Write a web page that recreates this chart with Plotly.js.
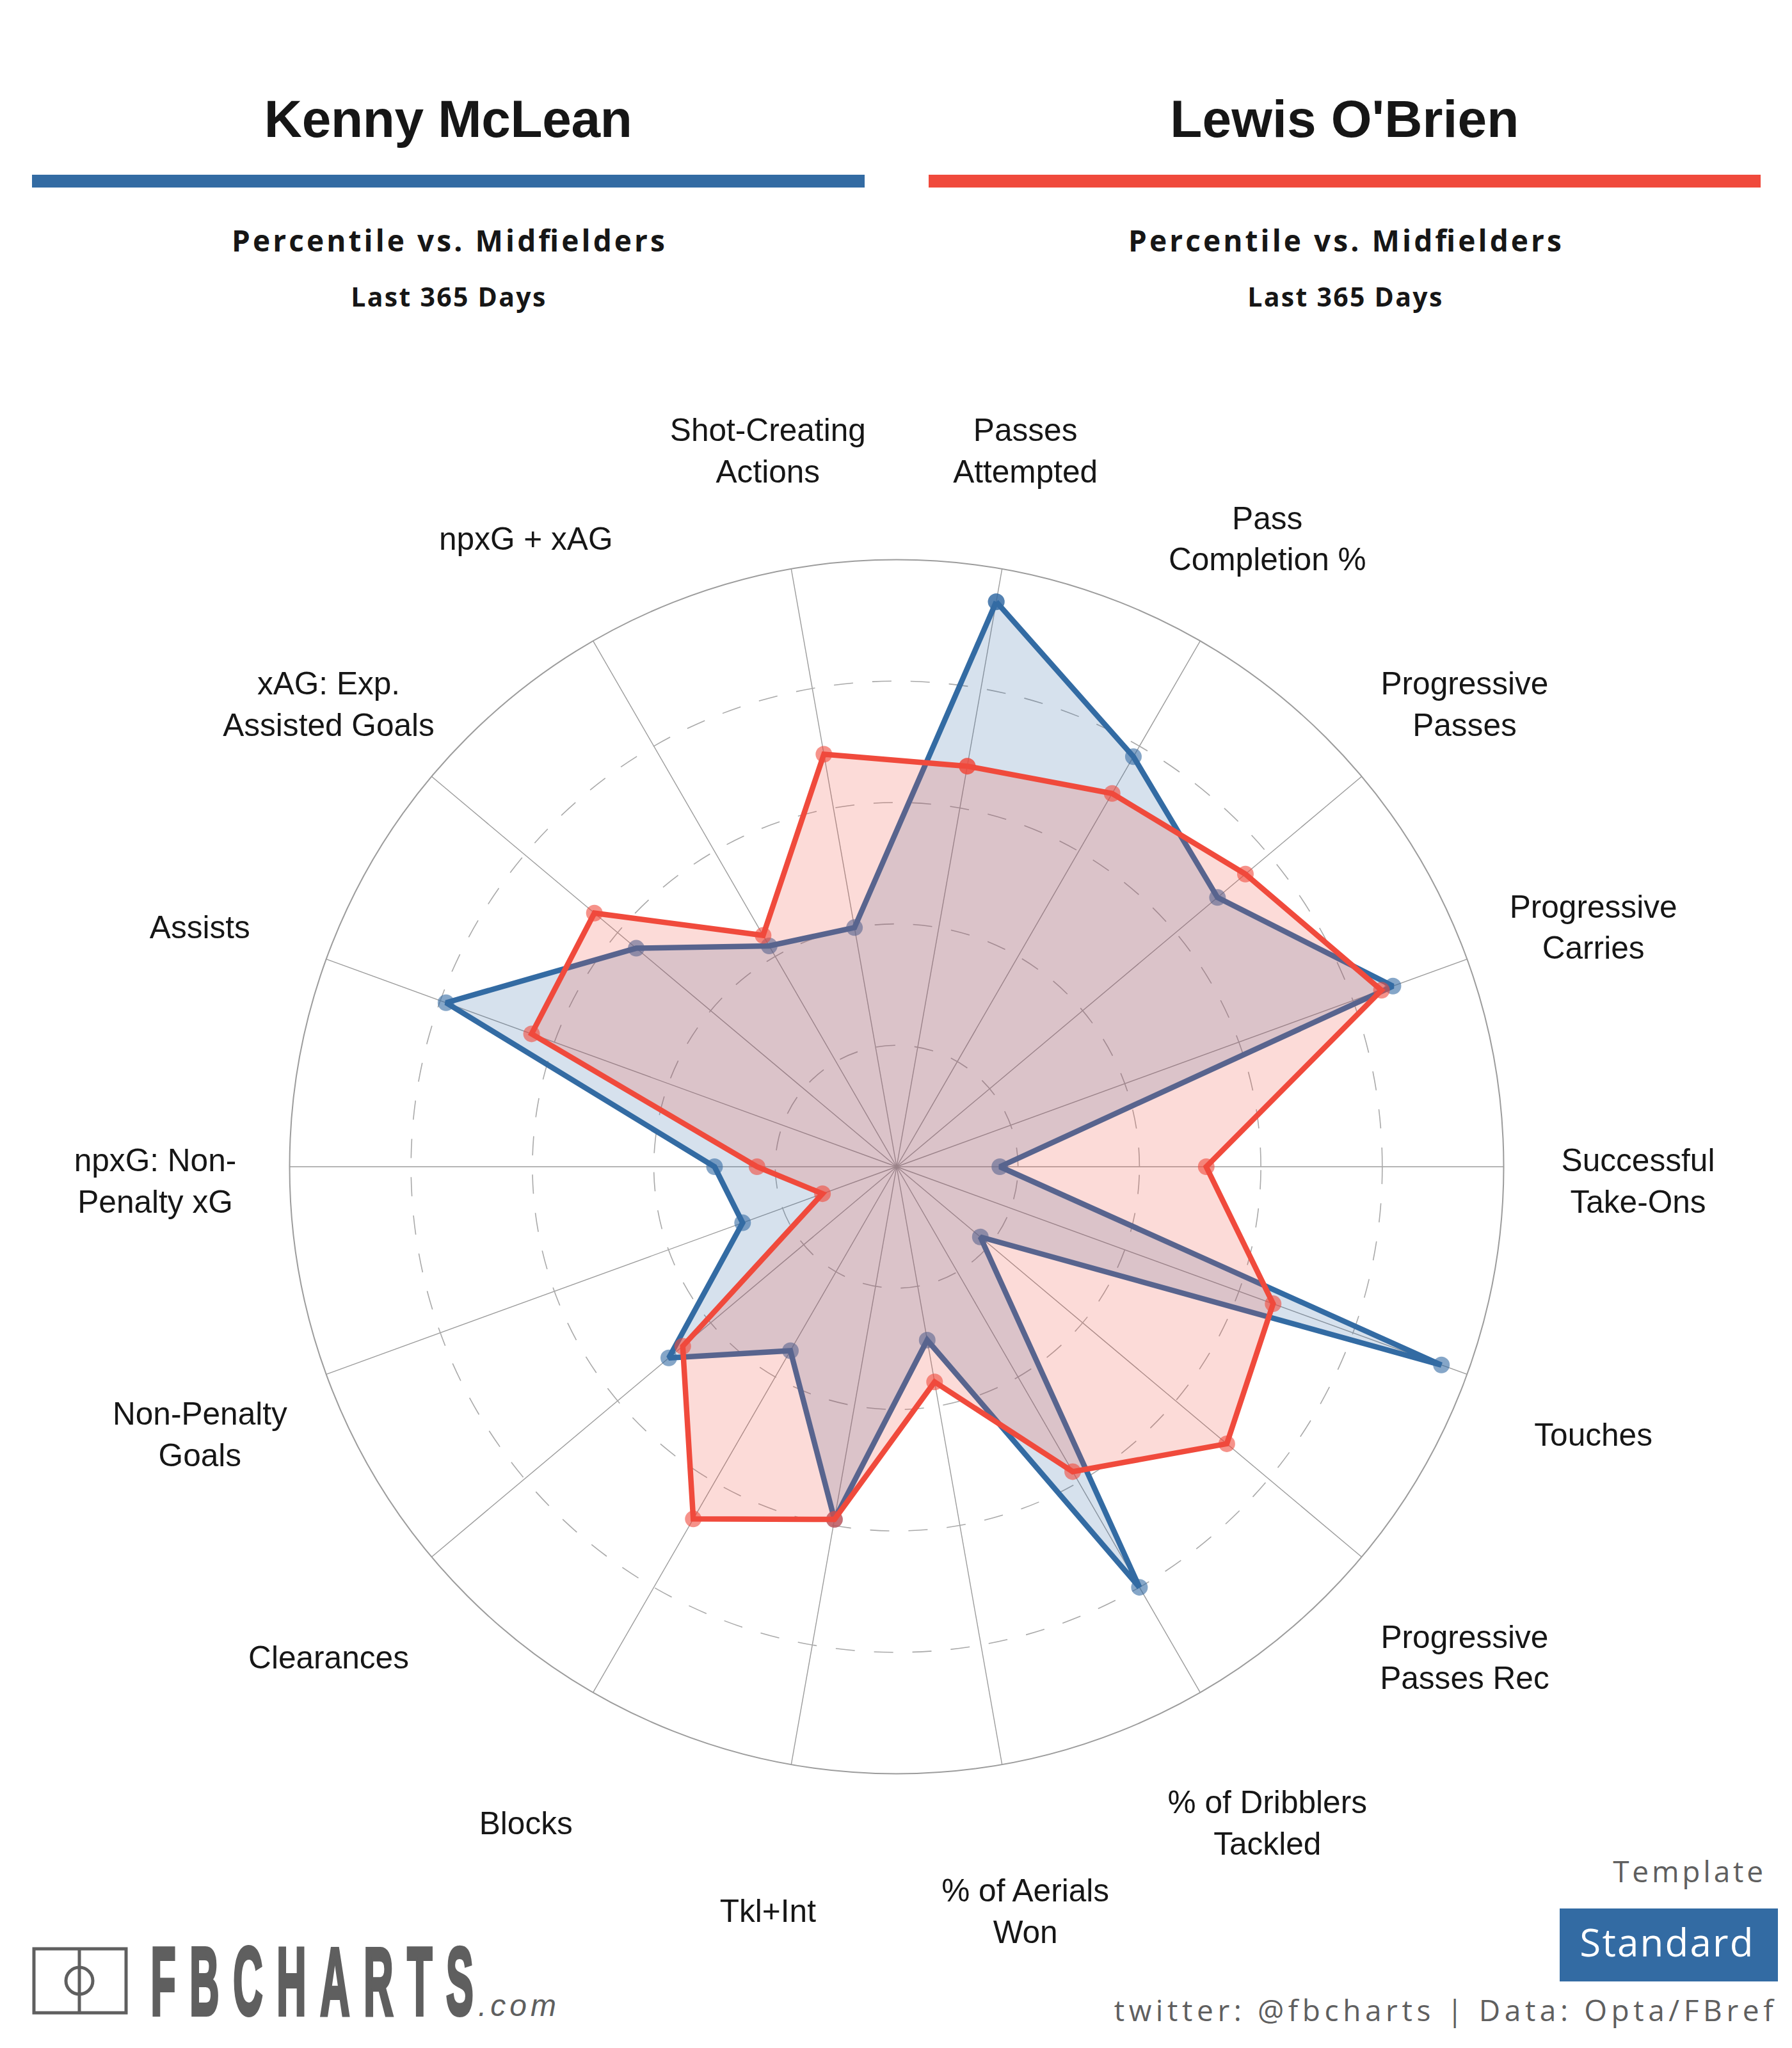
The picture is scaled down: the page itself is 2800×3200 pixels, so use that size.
<!DOCTYPE html>
<html><head><meta charset="utf-8">
<script src="https://cdn.plot.ly/plotly-3.0.1.min.js"></script>
<style>html,body{margin:0;padding:0;background:#fff}#c{width:2800px;height:3200px}</style>
</head><body><div id="c"></div>
<script>
const categories = ["Passes<br>Attempted","Pass<br>Completion %","Progressive<br>Passes","Progressive<br>Carries","Successful<br>Take-Ons","Touches","Progressive<br>Passes Rec","% of Dribblers<br>Tackled","% of Aerials<br>Won","Tkl+Int","Blocks","Clearances","Non-Penalty<br>Goals","npxG: Non-<br>Penalty xG","Assists","xAG: Exp.<br>Assisted Goals","npxG + xAG","Shot-Creating<br>Actions"];
const kenny = [94.5,78,69,87,17,95.5,18,80,29,59,35,49,27,30,79,56,42,40];
const lewis = [67,71,75,85,51,66,71,58,36,59,67,46,13,23,64,65,44,69];
const nameLeft = "Kenny McLean", nameRight = "Lewis O'Brien";
const BLUE = "#336ba3", RED = "#f04a3c", GREY = "#5f5f5f", INK = "#161616";
const W = 2800, H = 3200, CX = 1401, CY = 1823, R = 948.5, LABEL_R = 1158.5, LABEL_DY = 27;
const px = x => x / W, py = y => 1 - y / H;
const close = a => a.concat([a[0]]);
const txt = (x, y, text, size, color, family, weight, style) => ({
  xref:"paper", yref:"paper", x:px(x), y:py(y), text, showarrow:false, xanchor:"center", yanchor:"middle",
  font:{size, color, family, weight:weight||400, style:style||"normal"}
});
const rect = (x0,y0,x1,y1,fill) => ({type:"rect",xref:"paper",yref:"paper",x0:px(x0),x1:px(x1),y0:py(y0),y1:py(y1),fillcolor:fill,line:{width:0},layer:"below"});
const ARIAL = "Liberation Sans", HUM = "Open Sans";
const series = (name, vals, color, fillc) => ({
  type:"scatterpolar", name, subplot:"polar", r:close(vals), theta:close(categories), mode:"lines+markers",
  fill:"toself", fillcolor:fillc, line:{color, width:8.5, shape:"linear"},
  marker:{color, size:26, opacity:.6, line:{width:0}}, hoverinfo:"skip"
});
const traces = [
  series(nameLeft, kenny, BLUE, "rgba(51,107,163,0.2)"),
  series(nameRight, lewis, RED, "rgba(240,74,60,0.2)"),
  {type:"scatterpolar", subplot:"polar2", r:categories.map(()=>100), theta:categories, mode:"text", text:categories,
   textposition:"middle center", textfont:{family:ARIAL,size:49.6,color:INK}, cliponaxis:false, hoverinfo:"skip"}
];
const angular = {type:"category", categoryorder:"array", categoryarray:categories, rotation:80, direction:"clockwise",
  showticklabels:false, ticks:"", showgrid:true, gridcolor:"#9c9c9c", gridwidth:1.4, showline:true, linecolor:"#9c9c9c", linewidth:2};
const radial = {range:[0,100], tickmode:"array", tickvals:[20,40,60,80], showticklabels:false, ticks:"", showline:false,
  showgrid:true, gridcolor:"#a9a9a9", gridwidth:1.6, griddash:"30px,30px"};
const layout = {
  width:W, height:H, margin:{l:0,r:0,t:0,b:0}, paper_bgcolor:"#ffffff", showlegend:false,
  polar:{domain:{x:[px(CX-R),px(CX+R)], y:[py(CY+R),py(CY-R)]}, bgcolor:"rgba(0,0,0,0)", angularaxis:angular, radialaxis:radial},
  polar2:{domain:{x:[px(CX-LABEL_R),px(CX+LABEL_R)], y:[py(CY+LABEL_R+LABEL_DY),py(CY-LABEL_R+LABEL_DY)]}, bgcolor:"rgba(0,0,0,0)",
    angularaxis:Object.assign({},angular,{showgrid:false,showline:false}),
    radialaxis:{range:[0,100],visible:false,showgrid:false,showline:false}},
  shapes:[
    rect(50,273,1351,293,BLUE), rect(1451,273,2751,293,RED), rect(2437,2982,2778,3096,BLUE),
    {type:"rect",xref:"paper",yref:"paper",x0:px(53),x1:px(197),y0:py(3045),y1:py(3145),line:{color:GREY,width:5},fillcolor:"rgba(0,0,0,0)"},
    {type:"line",xref:"paper",yref:"paper",x0:px(124),x1:px(124),y0:py(3045),y1:py(3145),line:{color:GREY,width:5}},
    {type:"circle",xref:"paper",yref:"paper",x0:px(103),x1:px(145),y0:py(3074),y1:py(3116),line:{color:GREY,width:5},fillcolor:"rgba(0,0,0,0)"}
  ],
  annotations:[
    txt(700,186,nameLeft,82,INK,ARIAL,700),
    txt(2101,186,nameRight,82,INK,ARIAL,700),
    txt(700,375,"Percentile vs. Midfielders",46,INK,HUM,700),
    txt(2101,375,"Percentile vs. Midfielders",46,INK,HUM,700),
    txt(700,463,"Last 365 Days",41,INK,HUM,700),
    txt(2101,463,"Last 365 Days",41,INK,HUM,700),
    txt(2637,2923,"Template",46,GREY,HUM),
    txt(2604,3034,"Standard",60,"#ffffff",HUM),
    txt(2257,3140,"twitter: @fbcharts | Data: Opta/FBref",46,GREY,HUM),
    txt(498,3096,"FBCHARTS",150,GREY,ARIAL,700),
    txt(808,3133,".com",48,GREY,ARIAL,400,"italic")
  ]
};
const fit = {0:575,1:545,2:677,3:677,4:304,5:304,6:235,7:271,8:1030,9:526,10:122};
Plotly.newPlot("c",traces,layout,{staticPlot:true,displayModeBar:false}).then(()=>{
  document.querySelectorAll(".annotation").forEach(g=>{
    const i=+g.getAttribute("data-index"), t=g.querySelector("text");
    if(!t||!fit[i])return;
    if(i===9){
      t.style.letterSpacing="0.34em";
      t.style.stroke=GREY; t.style.strokeWidth="6px";
      t.setAttribute("lengthAdjust","spacingAndGlyphs");
    }
    t.setAttribute("textLength",fit[i]);
  });
});
</script></body></html>
